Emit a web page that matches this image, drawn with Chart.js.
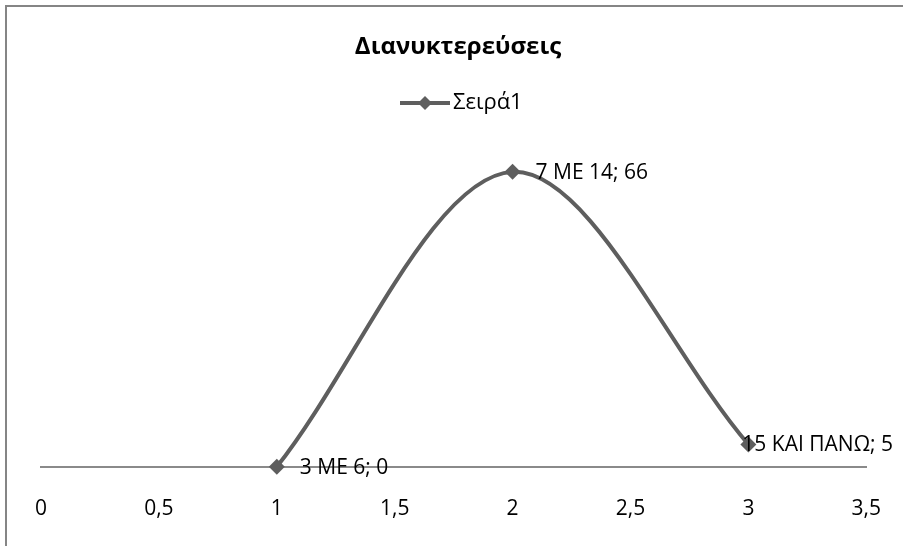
<!DOCTYPE html>
<html>
<head>
<meta charset="utf-8">
<script src="https://cdn.jsdelivr.net/npm/chart.js@4"></script>
<style>
  html, body { margin: 0; padding: 0; background: #fff; }
  #wrap { position: relative; width: 903px; height: 546px; overflow: hidden; }
  #frame { position: absolute; left: 5px; top: 5px; right: 0; bottom: 0;
           border-left: 2px solid #858585; border-top: 2px solid #858585; }
  canvas { position: absolute; left: 0; top: 0; }
</style>
</head>
<body>
<div id="wrap">
  <canvas id="chart" width="911" height="546"></canvas>
  <div id="frame"></div>
</div>
<script>
const chartTitle = 'Διανυκτερεύσεις';
const seriesName = 'Σειρά1';
const categories = ['3 ΜΕ 6', '7 ΜΕ 14', '15 ΚΑΙ ΠΑΝΩ'];
const xValues = [1, 2, 3];
const values = [0, 66, 5];

const lineColor = '#5e5e5e';
const fontFamily = '"Open Sans", "Noto Sans", sans-serif';

// title, legend and point labels drawn excel-style
const decorations = {
  id: 'decorations',
  afterDraw(chart) {
    const ctx = chart.ctx;
    const xs = chart.scales.x, ys = chart.scales.y;
    ctx.save();
    ctx.fillStyle = '#000';
    ctx.textBaseline = 'middle';

    ctx.font = 'bold 24px ' + fontFamily;
    ctx.textAlign = 'center';
    ctx.fillText(chartTitle, 458, 47);

    // legend
    ctx.strokeStyle = lineColor;
    ctx.lineWidth = 4;
    ctx.beginPath();
    ctx.moveTo(400, 103);
    ctx.lineTo(450, 103);
    ctx.stroke();
    ctx.fillStyle = lineColor;
    ctx.beginPath();
    ctx.moveTo(425, 96); ctx.lineTo(432, 103); ctx.lineTo(425, 110); ctx.lineTo(418, 103);
    ctx.closePath();
    ctx.fill();
    ctx.fillStyle = '#000';
    ctx.textAlign = 'left';
    ctx.font = '22px ' + fontFamily;
    ctx.fillText(seriesName, 453, 103);

    // data labels
    ctx.font = '21px ' + fontFamily;
    xValues.forEach((xv, i) => {
      const txt = categories[i] + '; ' + values[i];
      const w = ctx.measureText(txt).width;
      let px = xs.getPixelForValue(xv) + 23;
      if (px + w > 893) px = 893 - w;
      ctx.fillText(txt, px, ys.getPixelForValue(values[i]) + 1);
    });
    ctx.restore();
  }
};

new Chart(document.getElementById('chart'), {
  type: 'scatter',
  data: {
    datasets: [{
      label: seriesName,
      data: xValues.map((x, i) => ({ x: x, y: values[i] })),
      showLine: true,
      clip: false,
      tension: 0.33,
      borderColor: lineColor,
      borderWidth: 4,
      backgroundColor: lineColor,
      pointStyle: 'rectRot',
      pointRadius: 8,
      pointBorderWidth: 0
    }]
  },
  plugins: [decorations],
  options: {
    responsive: false,
    animation: false,
    layout: { padding: { left: 41, right: 22, top: 154, bottom: -6 } },
    plugins: {
      legend: { display: false },
      title: { display: false },
      tooltip: { enabled: false }
    },
    scales: {
      x: {
        type: 'linear',
        min: 0,
        max: 3.5,
        grid: { display: false, drawTicks: false },
        border: { display: true, color: '#8a8a8a', width: 2 },
        ticks: {
          stepSize: 0.5,
          padding: 30,
          color: '#000',
          font: { family: fontFamily, size: 21 },
          callback: v => String(v).replace('.', ',')
        }
      },
      y: {
        display: false,
        min: 0,
        max: 70
      }
    }
  }
});
</script>
</body>
</html>
